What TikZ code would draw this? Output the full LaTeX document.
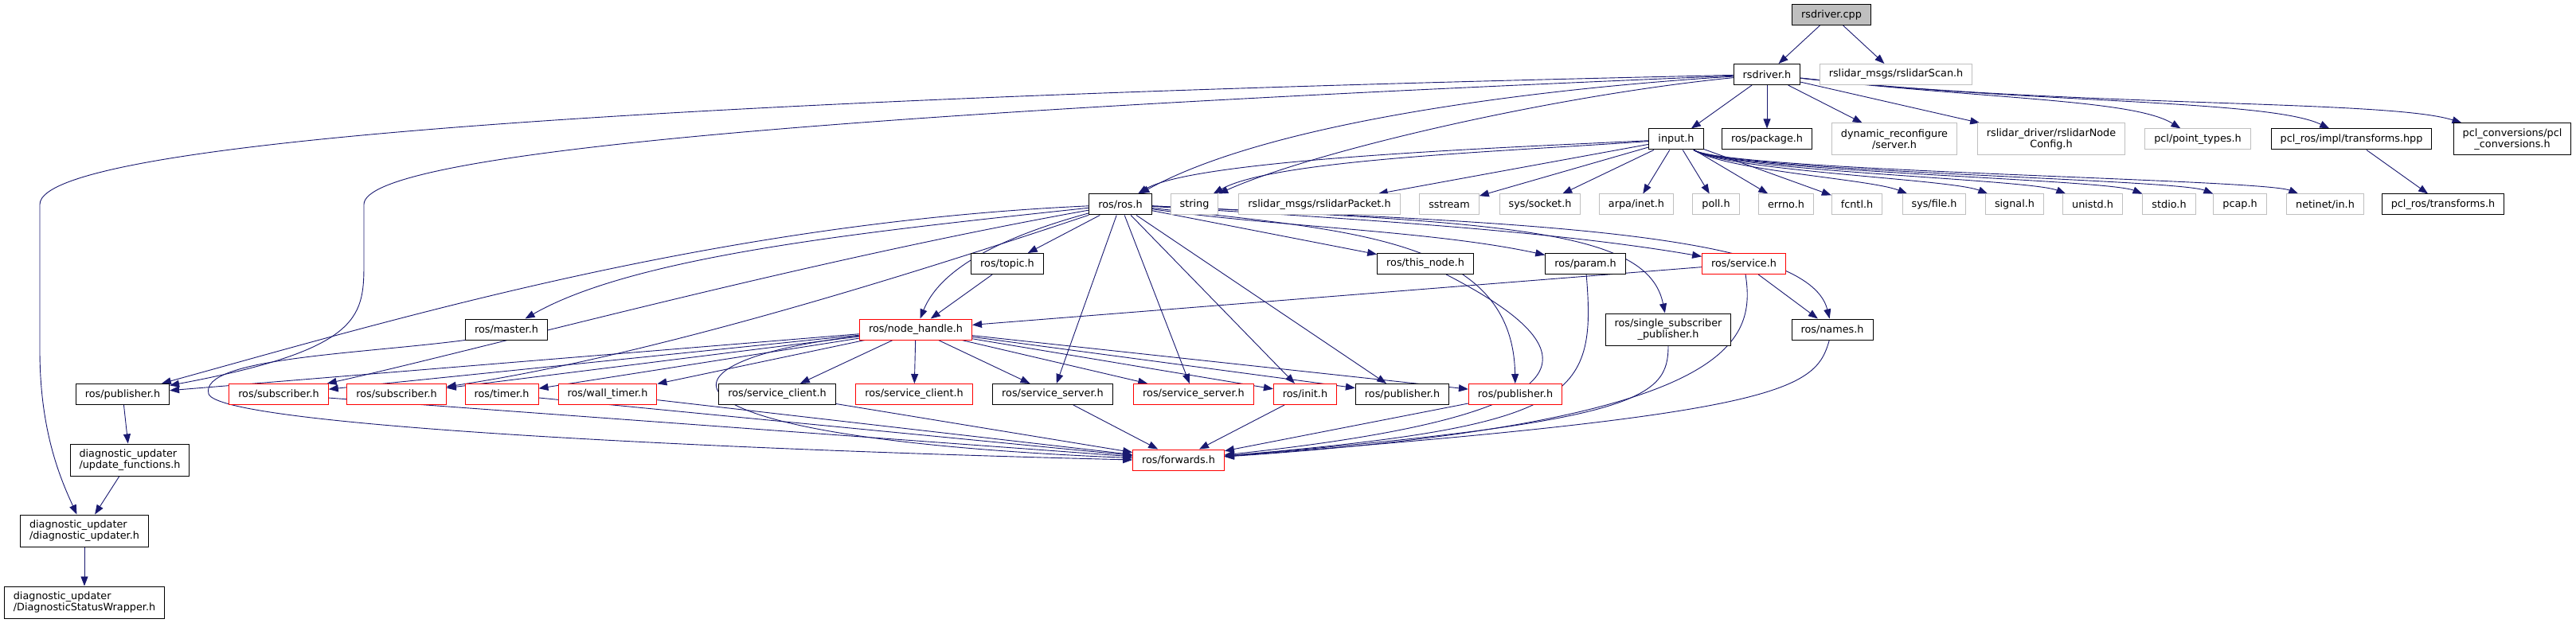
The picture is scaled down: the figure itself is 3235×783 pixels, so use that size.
\documentclass[tikz,border=0pt]{standalone}
\usepackage{fontspec}
\setmainfont{DejaVu Sans}
\usepackage{xcolor}
\usetikzlibrary{arrows.meta, backgrounds}
\definecolor{edgeblue}{HTML}{191970}
\definecolor{extgray}{HTML}{BFBFBF}

\begin{document}
\begin{tikzpicture}[
          x=1pt, y=-1pt,
          every node/.style={font=\fontsize{12.8}{14.3}\selectfont, fill=white,
                             inner xsep=11.5pt, inner ysep=0pt, minimum height=26pt, line width=1pt},
          srcbox/.style={draw=black, fill=extgray},
          docbox/.style={draw=black},
          extbox/.style={draw=extgray},
          cutbox/.style={draw=red},
          twoline/.style={minimum height=40pt, align=center},
          leftline/.style={minimum height=40pt, align=left},
          arr/.style={-{Triangle[length=12pt, width=9pt]}, edgeblue, line width=0.9pt},
        ]
          \useasboundingbox (0,0) rectangle (3235,783);

          % top rows
          \node[srcbox] (cpp) at (2300,18.5) {rsdriver.cpp};
          \node[docbox] (drv) at (2219,93.5) {rsdriver.h};
          \node[extbox] (scan) at (2381,93.5) {rslidar\_msgs/rslidarScan.h};

          \node[docbox] (input) at (2105,175) {input.h};
          \node[docbox] (pkg) at (2219,175) {ros/package.h};
          \node[extbox, twoline] (dynsrv) at (2379,175) {dynamic\_reconfigure\\/server.h};
          \node[extbox, twoline] (nodecfg) at (2576,175) {rslidar\_driver/rslidarNode\\Config.h};
          \node[extbox] (pointtypes) at (2760,175) {pcl/point\_types.h};
          \node[docbox] (implxf) at (2953,175) {pcl\_ros/impl/transforms.hpp};
          \node[docbox, twoline] (pclconv) at (3155,175) {pcl\_conversions/pcl\\\_conversions.h};

          \node[docbox] (rosh) at (1407,257) {ros/ros.h};
          \node[extbox] (strh) at (1500,257) {string};
          \node[extbox] (packet) at (1657,257) {rslidar\_msgs/rslidarPacket.h};
          \node[extbox] (sstream) at (1820,257) {sstream};
          \node[extbox] (socket) at (1934,257) {sys/socket.h};
          \node[extbox] (arpainet) at (2055,257) {arpa/inet.h};
          \node[extbox] (poll) at (2155,257) {poll.h};
          \node[extbox] (errno) at (2243,257) {errno.h};
          \node[extbox] (fcntl) at (2332,257) {fcntl.h};
          \node[extbox] (sysfile) at (2429,257) {sys/file.h};
          \node[extbox] (signal) at (2530,257) {signal.h};
          \node[extbox] (unistd) at (2628,257) {unistd.h};
          \node[extbox] (stdio) at (2724,257) {stdio.h};
          \node[extbox] (pcap) at (2813,257) {pcap.h};
          \node[extbox] (netinet) at (2920,257) {netinet/in.h};
          \node[docbox] (xf) at (3068,257) {pcl\_ros/transforms.h};

          % ros headers
          \node[docbox] (topic) at (1265,331.5) {ros/topic.h};
          \node[docbox] (thisnode) at (1790,331.5) {ros/this\_node.h};
          \node[docbox] (param) at (1991,331.5) {ros/param.h};
          \node[cutbox] (service) at (2190,331.5) {ros/service.h};

          \node[docbox] (master) at (636,414) {ros/master.h};
          \node[cutbox] (nodehandle) at (1150,414) {ros/node\_handle.h};
          \node[docbox, twoline] (single) at (2095,414) {ros/single\_subscriber\\\_publisher.h};
          \node[docbox] (names) at (2301,414) {ros/names.h};

          \node[docbox] (pub) at (154,495.5) {ros/publisher.h};
          \node[cutbox] (sub) at (350,495.5) {ros/subscriber.h};
          \node[cutbox] (subb) at (498,495.5) {ros/subscriber.h};
          \node[cutbox] (timer) at (630,495.5) {ros/timer.h};
          \node[cutbox] (walltimer) at (763,495.5) {ros/wall\_timer.h};
          \node[docbox] (srvclient) at (976,495.5) {ros/service\_client.h};
          \node[cutbox] (srvclientb) at (1148,495.5) {ros/service\_client.h};
          \node[docbox] (srvserver) at (1322,495.5) {ros/service\_server.h};
          \node[cutbox] (srvserverb) at (1499,495.5) {ros/service\_server.h};
          \node[cutbox] (init) at (1639,495.5) {ros/init.h};
          \node[docbox] (pubb) at (1761,495.5) {ros/publisher.h};
          \node[cutbox] (pubc) at (1903,495.5) {ros/publisher.h};

          \node[cutbox] (fwd) at (1480,578) {ros/forwards.h};

          % diagnostic column
          \node[docbox, leftline] (updfn) at (163,578) {diagnostic\_updater\\/update\_functions.h};
          \node[docbox, leftline] (diag) at (106,667) {diagnostic\_updater\\/diagnostic\_updater.h};
          \node[docbox, leftline] (diagwrap) at (106,757) {diagnostic\_updater\\/DiagnosticStatusWrapper.h};

          \begin{pgfonlayer}{background}
          \draw[arr] (cpp)--(drv); \draw[arr] (cpp)--(scan);
          \draw[arr] (drv)--(input); \draw[arr] (drv)--(pkg);
          \draw[arr] (drv)--(dynsrv); \draw[arr] (drv)--(nodecfg);
          \draw[arr] (drv) .. controls (2500,125) and (2680,125) .. (pointtypes);
          \draw[arr] (drv) .. controls (2550,130) and (2850,125) .. (implxf);
          \draw[arr] (drv) .. controls (2600,135) and (3000,125) .. (pclconv);
          \draw[arr] (drv) .. controls (1950,110) and (1600,150) .. (rosh);
          \draw[arr] (drv) .. controls (1950,120) and (1650,190) .. (strh);
          \draw[arr] (drv) .. controls (1000,120) and (50,170) .. (50,257)
            -- (50,440) .. controls (50,540) and (75,600) .. (diag);
          \draw[arr] (drv) .. controls (1100,140) and (457,190) .. (457,257)
            -- (457,333) .. controls (457,400) and (450,440) .. (pub);
          \draw[arr] (implxf)--(xf);

          % input.h
          \draw[arr] (input) .. controls (1900,185) and (1500,200) .. (rosh);
          \draw[arr] (input) .. controls (1900,190) and (1600,200) .. (strh);
          \draw[arr] (input)--(packet); \draw[arr] (input)--(sstream);
          \draw[arr] (input)--(socket); \draw[arr] (input)--(arpainet);
          \draw[arr] (input)--(poll); \draw[arr] (input)--(errno);
          \draw[arr] (input)--(fcntl);
          \draw[arr] (input) .. controls (2170,215) and (2349,225) .. (sysfile);
          \draw[arr] (input) .. controls (2170,215) and (2450,225) .. (signal);
          \draw[arr] (input) .. controls (2170,215) and (2548,225) .. (unistd);
          \draw[arr] (input) .. controls (2170,215) and (2644,225) .. (stdio);
          \draw[arr] (input) .. controls (2170,215) and (2733,225) .. (pcap);
          \draw[arr] (input) .. controls (2170,215) and (2840,225) .. (netinet);

          % ros/ros.h
          \draw[arr] (rosh)--(topic); \draw[arr] (topic)--(nodehandle);
          \draw[arr] (rosh) .. controls (1250,300) and (1180,340) .. (nodehandle);
          \draw[arr] (rosh)--(srvserver); \draw[arr] (rosh)--(srvserverb);
          \draw[arr] (rosh)--(init); \draw[arr] (rosh)--(pubb);
          \draw[arr] (rosh) .. controls (1700,290) and (1900,300) .. (pubc);
          \draw[arr] (rosh)--(thisnode);
          \draw[arr] (rosh) .. controls (1600,285) and (1800,290) .. (param);
          \draw[arr] (rosh) .. controls (1700,275) and (1950,290) .. (service);
          \draw[arr] (rosh) .. controls (1900,280) and (2070,290) .. (single);
          \draw[arr] (rosh) .. controls (1900,280) and (2270,290) .. (names);
          \draw[arr] (rosh) .. controls (1100,290) and (800,320) .. (master);
          \draw[arr] (rosh) .. controls (900,280) and (500,400) .. (pub);
          \draw[arr] (rosh) .. controls (1000,330) and (600,440) .. (sub);
          \draw[arr] (rosh) .. controls (1100,360) and (800,450) .. (subb);
          \draw[arr] (service)--(names); \draw[arr] (service)--(nodehandle);

          % ros/node_handle.h
          \draw[arr] (nodehandle)--(pub); \draw[arr] (nodehandle)--(sub);
          \draw[arr] (nodehandle)--(subb); \draw[arr] (nodehandle)--(timer);
          \draw[arr] (nodehandle)--(walltimer); \draw[arr] (nodehandle)--(srvclient);
          \draw[arr] (nodehandle)--(srvclientb); \draw[arr] (nodehandle)--(srvserver);
          \draw[arr] (nodehandle)--(srvserverb); \draw[arr] (nodehandle)--(init);
          \draw[arr] (nodehandle)--(pubb); \draw[arr] (nodehandle)--(pubc);

          % into ros/forwards.h
          \draw[arr] (sub)--(fwd); \draw[arr] (timer)--(fwd);
          \draw[arr] (walltimer)--(fwd); \draw[arr] (srvclient)--(fwd);
          \draw[arr] (srvserver)--(fwd); \draw[arr] (init)--(fwd);
          \draw[arr] (pubc)--(fwd);
          \draw[arr] (nodehandle) .. controls (800,455) and (800,550) .. (fwd);
          \draw[arr] (master.south west) .. controls (450,445) and (250,450) .. (262,495)
            .. controls (275,535) and (900,565) .. (fwd.west);
          \draw[arr] (thisnode) .. controls (2000,440) and (2020,520) .. (fwd);
          \draw[arr] (param) .. controls (2005,500) and (1980,535) .. (fwd);
          \draw[arr] (single) .. controls (2095,500) and (2060,530) .. (fwd);
          \draw[arr] (service) .. controls (2205,430) and (2180,530) .. (fwd);
          \draw[arr] (names) .. controls (2280,490) and (2240,520) .. (fwd);

          % diagnostic chain
          \draw[arr] (pub)--(updfn); \draw[arr] (updfn)--(diag);
          \draw[arr] (diag)--(diagwrap);
          \end{pgfonlayer}
        \end{tikzpicture}
\end{document}
